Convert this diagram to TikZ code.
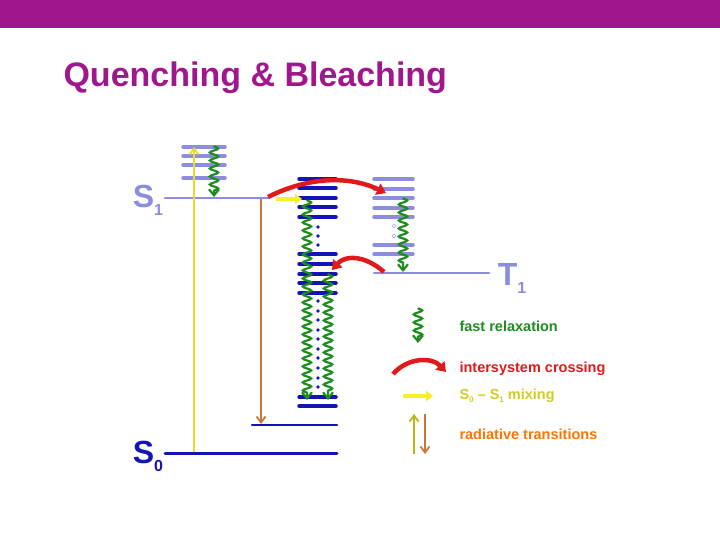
\documentclass[tikz,border=0pt]{standalone}
\usepackage{fontspec}
\setmainfont{Liberation Sans}
\newfontfamily\bsans{Liberation Sans Bold}
\usetikzlibrary{decorations.pathmorphing,arrows.meta}
\definecolor{bar}{RGB}{160,22,140}
\definecolor{lb}{RGB}{140,140,225}
\definecolor{db}{RGB}{20,20,180}
\definecolor{gr}{RGB}{30,140,30}
\definecolor{rd}{RGB}{225,25,25}
\definecolor{yl}{RGB}{245,240,40}
\definecolor{br}{RGB}{200,120,50}
\begin{document}
\begin{tikzpicture}[x=1pt,y=-1pt,
  lvl/.style={line width=3.5pt,line cap=round},
  lvlL/.style={lvl,lb},lvlD/.style={lvl,db},
  wavy/.style={gr,line width=2.2pt,decorate,decoration={snake,amplitude=4.2pt,segment length=8pt,post length=6pt},-{Straight Barb[length=6pt,width=10pt]}},
  isc/.style={rd,line width=4.5pt,-{Triangle[length=9pt,width=12pt]}},
  mix/.style={yl,line width=4pt,-{Triangle[length=7pt,width=10pt]}},
  lbl/.style={font=\bsans\fontsize{14.5}{14.5}\selectfont,anchor=west},
  big/.style={font=\bsans\fontsize{32}{32}\selectfont},
  dotD/.style={circle,fill=db,inner sep=1.3pt}]
\useasboundingbox (0,0) rectangle (720,540);
\fill[bar] (0,0) rectangle (720,28);
\node[anchor=base west,bar,font=\bsans\fontsize{34}{34}\selectfont] (title) at (60,87) {Quenching \& Bleaching};
% S1 levels
\foreach \y in {147,156,165,178} \draw[lvlL] (183,\y) -- (225,\y);
\draw[lvlL,line width=2.5pt] (165,198) -- (268,198);
\node[lb,big] (s1) at (148,200) {S\raisebox{-8pt}{\fontsize{16}{16}\selectfont 1}};
% middle stack
\foreach \y in {179,188,198,207,217,254,264,274,283,293,397,406} \draw[lvlD] (299,\y) -- (336,\y);
\foreach \y in {227,236,245} \node[dotD] at (318,\y) {};
\foreach \y in {301,311,320,330,339,349,358,368,378,387} \node[dotD] at (318,\y) {};
\draw[lvlD,line width=2.5pt] (252,425) -- (337,425);
\draw[lvlD,line width=3pt] (165,453) -- (337,453);
\node[db,big] (s0) at (148,456) {S\raisebox{-8pt}{\fontsize{16}{16}\selectfont 0}};
% T1 stack
\foreach \y in {179,189,198,208,217,245,254} \draw[lvlL] (374,\y) -- (413,\y);
\foreach \y in {226,236} \node[circle,draw=lb,fill=white,inner sep=1.3pt] at (394,\y) {};
\draw[lvlL,line width=2.5pt] (374,273) -- (489,273);
\node[lb,big] (t1) at (512,278) {T\raisebox{-8pt}{\fontsize{16}{16}\selectfont 1}};
% radiative
\draw[yl!85!olive,line width=1.8pt,-{Straight Barb[length=6pt,width=9pt]}] (194,452) -- (194,147);
\draw[br,line width=1.8pt,-{Straight Barb[length=6pt,width=9pt]}] (261,199) -- (261,424);
% wavy relaxations
\draw[wavy] (214,146) -- (214,197);
\draw[wavy] (307,200) -- (307,400);
\draw[wavy] (328,274) -- (328,400);
\draw[wavy] (403,198) -- (403,272);
% ISC
\draw[isc] (268,197) .. controls (310,176) and (350,176) .. (386,193);
\draw[isc] (384,272) .. controls (365,255) and (345,255) .. (332,270);
\draw[mix] (276,199) -- (302,199);
% legend
\coordinate (lw1) at (418,308); \coordinate (lw2) at (418,343);
\draw[wavy] (lw1) -- (lw2);
\node[lbl,gr] (l1) at (456,326) {fast relaxation};
\draw[isc] (393,374) .. controls (408,357) and (432,357) .. (446,372);
\node[lbl,rd] (l2) at (456,369) {intersystem crossing};
\draw[mix] (403,396) -- (433,396);
\node[lbl,yl!85!black] (l3) at (456,396) {S\raisebox{-3pt}{\fontsize{8}{8}\selectfont 0} – S\raisebox{-3pt}{\fontsize{8}{8}\selectfont 1} mixing};
\draw[yl!50!olive,line width=1.8pt,-{Straight Barb[length=6pt,width=9pt]}] (414,454) -- (414,414);
\draw[br,line width=1.8pt,-{Straight Barb[length=6pt,width=9pt]}] (425,414) -- (425,454);
\node[lbl,orange!90!red] (l4) at (456,434) {radiative transitions};
\end{tikzpicture}
\end{document}
